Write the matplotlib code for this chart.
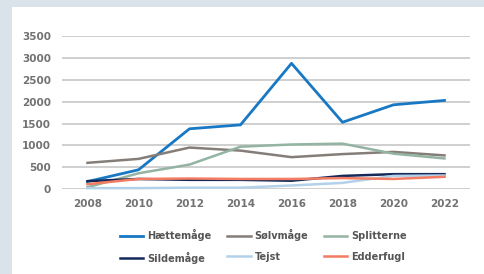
import numpy as np
import matplotlib.pyplot as plt

aar = ["2008", "2010", "2012", "2014", "2016", "2018", "2020", "2022"]

haettemaage = [170, 440, 1380, 1470, 2880, 1530, 1930, 2030]
soelvmaage = [600, 690, 950, 880, 730, 800, 850, 770]
splitterne = [40, 360, 560, 970, 1020, 1040, 810, 700]
sildemaage = [180, 230, 210, 210, 190, 300, 340, 340]
tejst = [20, 20, 30, 30, 80, 140, 300, 310]
edderfugl = [110, 230, 240, 230, 230, 250, 230, 280]

navne = ["Hættemåge", "Sølvmåge", "Splitterne", "Sildemåge", "Tejst", "Edderfugl"]
farver = ["#1878c4", "#857d77", "#93b4a2", "#14295a", "#b4d1ea", "#f37c62"]
serier = [haettemaage, soelvmaage, splitterne, sildemaage, tejst, edderfugl]

fig = plt.figure(figsize=(4.85, 2.74), dpi=100)
fig.patch.set_facecolor("#dae2ea")

# hvidt panel bag grafen
bg = fig.add_axes([12 / 485, 0, 1 - 12 / 485, 1 - 7 / 274], zorder=-1)
bg.axis("off")
bg.add_patch(plt.Rectangle((0, 0), 1, 1, transform=bg.transAxes, color="white"))

ax = fig.add_axes([62 / 485, 1 - 189 / 274, 408 / 485, (189 - 36.3) / 274])
ax.set_facecolor("none")

x = np.arange(len(aar))
linjer = []
for navn, farve, y in zip(navne, farver, serier):
    lw = 2.0 if navn == "Hættemåge" else 1.8
    l, = ax.plot(x, y, color=farve, lw=lw, label=navn, clip_on=False, zorder=3)
    linjer.append(l)

ax.set_xlim(-0.5, len(aar) - 0.5)
ax.set_ylim(0, 3500)
ax.set_yticks(np.arange(0, 3501, 500))
ax.set_xticks(x)
ax.set_xticklabels(aar)
ax.grid(axis="y", color="#cccccc", lw=1.3)
ax.set_axisbelow(True)
for s in ax.spines.values():
    s.set_visible(False)
ax.tick_params(length=0, labelsize=7.5, colors="#727272", pad=8)
ax.tick_params(axis="x", pad=7)
for t in ax.get_xticklabels() + ax.get_yticklabels():
    t.set_fontweight("bold")

# legenden udfyldes kolonnevis, så rækkefølgen byttes om
orden = [0, 3, 1, 4, 2, 5]
fig.legend(handles=[linjer[i] for i in orden], loc="center", bbox_to_anchor=(0.543, 0.101), ncol=3,
           frameon=False, handlelength=2.4, columnspacing=1.6,
           handletextpad=0.4, labelspacing=1.1, labelcolor="#555555",
           prop={"weight": "bold", "size": 7})

fig.savefig("out.png", dpi=100, facecolor=fig.get_facecolor())
